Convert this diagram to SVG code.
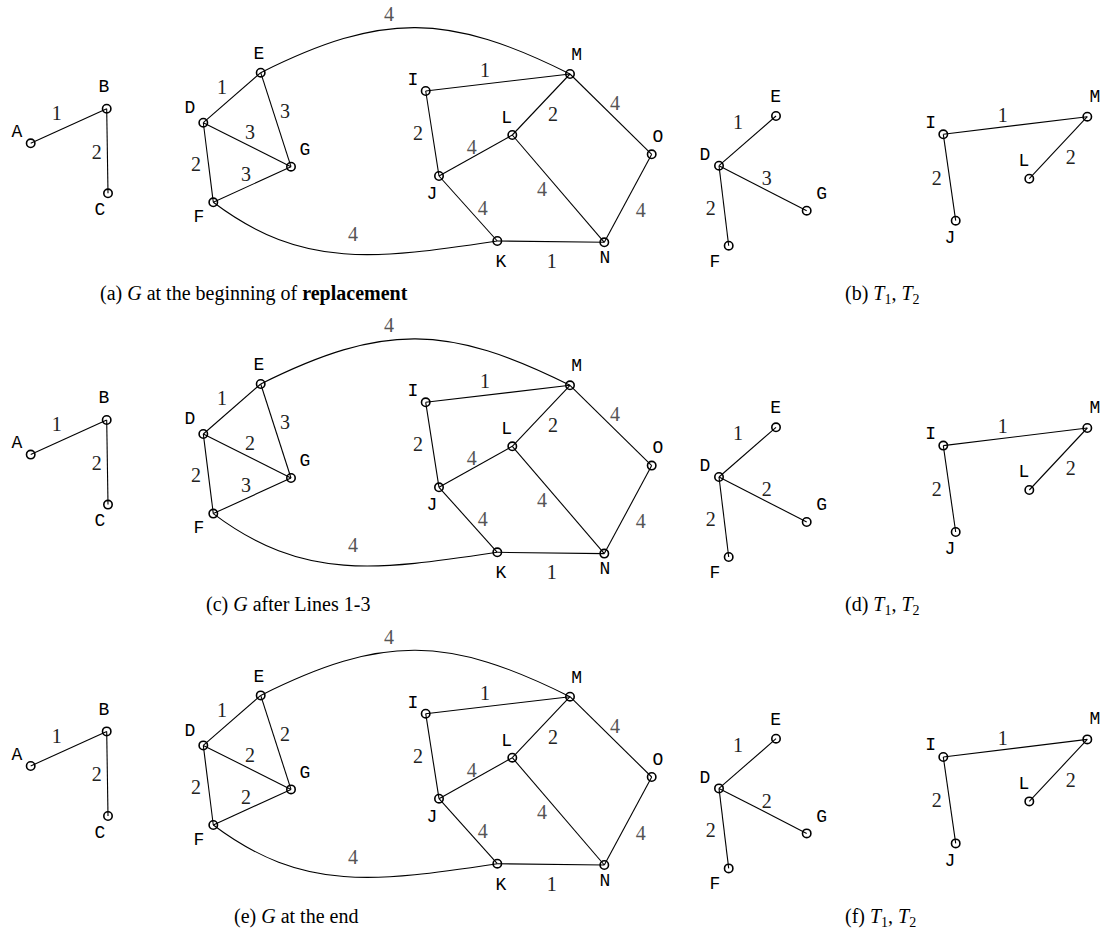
<svg xmlns="http://www.w3.org/2000/svg" width="1103" height="938" viewBox="0 0 1103 938">
<style>
.e{stroke:#000;stroke-width:1.1;fill:none}
.n{stroke:#000;stroke-width:1.6;fill:none}
.nl{font-family:"Liberation Mono","DejaVu Sans Mono",monospace;font-size:18px;fill:#000;text-anchor:middle;dominant-baseline:central}
.w{font-family:"Liberation Serif","Times New Roman",serif;font-size:20px;fill:#222;text-anchor:middle;dominant-baseline:central}
.w4{fill:#555}
.cap{font-family:"Liberation Serif","Times New Roman",serif;font-size:20px;fill:#000}
</style>
<defs>
<circle id="nd" r="4.2" class="n"/>
</defs>

<!-- ===== Row 1 ===== -->
<g id="row1">
<g id="r1-edges">
<line class="e" x1="30.7" y1="143.3" x2="106.7" y2="108.7"/>
<line class="e" x1="106.7" y1="108.7" x2="108" y2="193.3"/>
<line class="e" x1="203.3" y1="122.7" x2="260.7" y2="72.7"/>
<line class="e" x1="260.7" y1="72.7" x2="291" y2="166.7"/>
<line class="e" x1="203.3" y1="122.7" x2="291" y2="166.7"/>
<line class="e" x1="203.3" y1="122.7" x2="213.3" y2="202.3"/>
<line class="e" x1="213.3" y1="202.3" x2="291" y2="166.7"/>
<path class="e" d="M260.7,72.7 C383,11.7 448,13 570,74"/>
<path class="e" d="M213.3,202.3 C303,270 377,259 497.3,241"/>
<line class="e" x1="425.7" y1="91" x2="570" y2="74"/>
<line class="e" x1="425.7" y1="91" x2="439" y2="176"/>
<line class="e" x1="439" y1="176" x2="512.3" y2="135"/>
<line class="e" x1="512.3" y1="135" x2="570" y2="74"/>
<line class="e" x1="570" y1="74" x2="651.7" y2="154.3"/>
<line class="e" x1="651.7" y1="154.3" x2="604.3" y2="242.3"/>
<line class="e" x1="512.3" y1="135" x2="604.3" y2="242.3"/>
<line class="e" x1="439" y1="176" x2="497.3" y2="241"/>
<line class="e" x1="497.3" y1="241" x2="604.3" y2="242.3"/>
<line class="e" x1="719" y1="165.7" x2="776" y2="116"/>
<line class="e" x1="719" y1="165.7" x2="806.7" y2="210.7"/>
<line class="e" x1="719" y1="165.7" x2="728.7" y2="245.7"/>
<line class="e" x1="943.3" y1="134.3" x2="1087.3" y2="116.7"/>
<line class="e" x1="1087.3" y1="116.7" x2="1029.3" y2="178.7"/>
<line class="e" x1="943.3" y1="134.3" x2="955.7" y2="220.7"/>
</g>
<g id="r1-weights">
<text class="w" x="56.7" y="113">1</text>
<text class="w" x="96.7" y="151.7">2</text>
<text class="w" x="222" y="87">1</text>
<text class="w" x="285" y="111">3</text>
<text class="w" x="250" y="132">3</text>
<text class="w" x="196" y="164">2</text>
<text class="w" x="246" y="174">3</text>
<text class="w w4" x="389" y="14">4</text>
<text class="w w4" x="353" y="234">4</text>
<text class="w" x="485" y="70">1</text>
<text class="w" x="553" y="114">2</text>
<text class="w w4" x="615" y="103">4</text>
<text class="w" x="418" y="133">2</text>
<text class="w w4" x="471.7" y="147">4</text>
<text class="w w4" x="542" y="189">4</text>
<text class="w w4" x="640.7" y="210">4</text>
<text class="w w4" x="482.7" y="208">4</text>
<text class="w" x="551.7" y="261">1</text>
<text class="w" x="738" y="122">1</text>
<text class="w" x="766.7" y="178">3</text>
<text class="w" x="710.7" y="207.7">2</text>
<text class="w" x="1002.7" y="115">1</text>
<text class="w" x="1070.7" y="157">2</text>
<text class="w" x="936.7" y="177.7">2</text>
</g>
<g id="r1-A"><use href="#nd" x="30.7" y="143.3"/><text class="nl" x="17" y="132">A</text></g>
<g id="r1-B"><use href="#nd" x="106.7" y="108.7"/><text class="nl" x="104" y="87">B</text></g>
<g id="r1-C"><use href="#nd" x="108" y="193.3"/><text class="nl" x="100" y="210">C</text></g>
<g id="r1-D"><use href="#nd" x="203.3" y="122.7"/><text class="nl" x="190" y="108">D</text></g>
<g id="r1-E"><use href="#nd" x="260.7" y="72.7"/><text class="nl" x="259" y="54">E</text></g>
<g id="r1-F"><use href="#nd" x="213.3" y="202.3"/><text class="nl" x="199" y="217">F</text></g>
<g id="r1-G"><use href="#nd" x="291" y="166.7"/><text class="nl" x="305" y="150">G</text></g>
<g id="r1-I"><use href="#nd" x="425.7" y="91"/><text class="nl" x="413" y="80">I</text></g>
<g id="r1-M"><use href="#nd" x="570" y="74"/><text class="nl" x="576.7" y="55">M</text></g>
<g id="r1-L"><use href="#nd" x="512.3" y="135"/><text class="nl" x="506.7" y="118">L</text></g>
<g id="r1-O"><use href="#nd" x="651.7" y="154.3"/><text class="nl" x="658" y="137">O</text></g>
<g id="r1-J"><use href="#nd" x="439" y="176"/><text class="nl" x="432" y="194">J</text></g>
<g id="r1-K"><use href="#nd" x="497.3" y="241"/><text class="nl" x="501" y="262">K</text></g>
<g id="r1-N"><use href="#nd" x="604.3" y="242.3"/><text class="nl" x="605" y="258">N</text></g>
<g id="r1-tD"><use href="#nd" x="719" y="165.7"/><text class="nl" x="705" y="155">D</text></g>
<g id="r1-tE"><use href="#nd" x="776" y="116"/><text class="nl" x="775.7" y="97">E</text></g>
<g id="r1-tG"><use href="#nd" x="806.7" y="210.7"/><text class="nl" x="821.7" y="194">G</text></g>
<g id="r1-tF"><use href="#nd" x="728.7" y="245.7"/><text class="nl" x="715" y="261.7">F</text></g>
<g id="r1-tI"><use href="#nd" x="943.3" y="134.3"/><text class="nl" x="930.7" y="122.7">I</text></g>
<g id="r1-tM"><use href="#nd" x="1087.3" y="116.7"/><text class="nl" x="1095" y="96.7">M</text></g>
<g id="r1-tL"><use href="#nd" x="1029.3" y="178.7"/><text class="nl" x="1024" y="161">L</text></g>
<g id="r1-tJ"><use href="#nd" x="955.7" y="220.7"/><text class="nl" x="950" y="238">J</text></g>
<text class="cap" x="100" y="300">(a) <tspan font-style="italic">G</tspan> at the beginning of <tspan font-weight="bold">replacement</tspan></text>
<text class="cap" x="845" y="300">(b) <tspan font-style="italic">T</tspan><tspan font-size="14" dy="4">1</tspan><tspan dy="-4">, </tspan><tspan font-style="italic">T</tspan><tspan font-size="14" dy="4">2</tspan></text>
</g>

<!-- ===== Row 2 ===== -->
<g id="row2" transform="translate(0,311.3)">
<g id="r2-edges">
<line class="e" x1="30.7" y1="143.3" x2="106.7" y2="108.7"/>
<line class="e" x1="106.7" y1="108.7" x2="108" y2="193.3"/>
<line class="e" x1="203.3" y1="122.7" x2="260.7" y2="72.7"/>
<line class="e" x1="260.7" y1="72.7" x2="291" y2="166.7"/>
<line class="e" x1="203.3" y1="122.7" x2="291" y2="166.7"/>
<line class="e" x1="203.3" y1="122.7" x2="213.3" y2="202.3"/>
<line class="e" x1="213.3" y1="202.3" x2="291" y2="166.7"/>
<path class="e" d="M260.7,72.7 C383,11.7 448,13 570,74"/>
<path class="e" d="M213.3,202.3 C303,270 377,259 497.3,241"/>
<line class="e" x1="425.7" y1="91" x2="570" y2="74"/>
<line class="e" x1="425.7" y1="91" x2="439" y2="176"/>
<line class="e" x1="439" y1="176" x2="512.3" y2="135"/>
<line class="e" x1="512.3" y1="135" x2="570" y2="74"/>
<line class="e" x1="570" y1="74" x2="651.7" y2="154.3"/>
<line class="e" x1="651.7" y1="154.3" x2="604.3" y2="242.3"/>
<line class="e" x1="512.3" y1="135" x2="604.3" y2="242.3"/>
<line class="e" x1="439" y1="176" x2="497.3" y2="241"/>
<line class="e" x1="497.3" y1="241" x2="604.3" y2="242.3"/>
<line class="e" x1="719" y1="165.7" x2="776" y2="116"/>
<line class="e" x1="719" y1="165.7" x2="806.7" y2="210.7"/>
<line class="e" x1="719" y1="165.7" x2="728.7" y2="245.7"/>
<line class="e" x1="943.3" y1="134.3" x2="1087.3" y2="116.7"/>
<line class="e" x1="1087.3" y1="116.7" x2="1029.3" y2="178.7"/>
<line class="e" x1="943.3" y1="134.3" x2="955.7" y2="220.7"/>
</g>
<g id="r2-weights">
<text class="w" x="56.7" y="113">1</text>
<text class="w" x="96.7" y="151.7">2</text>
<text class="w" x="222" y="87">1</text>
<text class="w" x="285" y="111">3</text>
<text class="w" x="250" y="132">2</text>
<text class="w" x="196" y="164">2</text>
<text class="w" x="246" y="174">3</text>
<text class="w w4" x="389" y="14">4</text>
<text class="w w4" x="353" y="234">4</text>
<text class="w" x="485" y="70">1</text>
<text class="w" x="553" y="114">2</text>
<text class="w w4" x="615" y="103">4</text>
<text class="w" x="418" y="133">2</text>
<text class="w w4" x="471.7" y="147">4</text>
<text class="w w4" x="542" y="189">4</text>
<text class="w w4" x="640.7" y="210">4</text>
<text class="w w4" x="482.7" y="208">4</text>
<text class="w" x="551.7" y="261">1</text>
<text class="w" x="738" y="122">1</text>
<text class="w" x="766.7" y="178">2</text>
<text class="w" x="710.7" y="207.7">2</text>
<text class="w" x="1002.7" y="115">1</text>
<text class="w" x="1070.7" y="157">2</text>
<text class="w" x="936.7" y="177.7">2</text>
</g>
<g id="r2-A"><use href="#nd" x="30.7" y="143.3"/><text class="nl" x="17" y="132">A</text></g>
<g id="r2-B"><use href="#nd" x="106.7" y="108.7"/><text class="nl" x="104" y="87">B</text></g>
<g id="r2-C"><use href="#nd" x="108" y="193.3"/><text class="nl" x="100" y="210">C</text></g>
<g id="r2-D"><use href="#nd" x="203.3" y="122.7"/><text class="nl" x="190" y="108">D</text></g>
<g id="r2-E"><use href="#nd" x="260.7" y="72.7"/><text class="nl" x="259" y="54">E</text></g>
<g id="r2-F"><use href="#nd" x="213.3" y="202.3"/><text class="nl" x="199" y="217">F</text></g>
<g id="r2-G"><use href="#nd" x="291" y="166.7"/><text class="nl" x="305" y="150">G</text></g>
<g id="r2-I"><use href="#nd" x="425.7" y="91"/><text class="nl" x="413" y="80">I</text></g>
<g id="r2-M"><use href="#nd" x="570" y="74"/><text class="nl" x="576.7" y="55">M</text></g>
<g id="r2-L"><use href="#nd" x="512.3" y="135"/><text class="nl" x="506.7" y="118">L</text></g>
<g id="r2-O"><use href="#nd" x="651.7" y="154.3"/><text class="nl" x="658" y="137">O</text></g>
<g id="r2-J"><use href="#nd" x="439" y="176"/><text class="nl" x="432" y="194">J</text></g>
<g id="r2-K"><use href="#nd" x="497.3" y="241"/><text class="nl" x="501" y="262">K</text></g>
<g id="r2-N"><use href="#nd" x="604.3" y="242.3"/><text class="nl" x="605" y="258">N</text></g>
<g id="r2-tD"><use href="#nd" x="719" y="165.7"/><text class="nl" x="705" y="155">D</text></g>
<g id="r2-tE"><use href="#nd" x="776" y="116"/><text class="nl" x="775.7" y="97">E</text></g>
<g id="r2-tG"><use href="#nd" x="806.7" y="210.7"/><text class="nl" x="821.7" y="194">G</text></g>
<g id="r2-tF"><use href="#nd" x="728.7" y="245.7"/><text class="nl" x="715" y="261.7">F</text></g>
<g id="r2-tI"><use href="#nd" x="943.3" y="134.3"/><text class="nl" x="930.7" y="122.7">I</text></g>
<g id="r2-tM"><use href="#nd" x="1087.3" y="116.7"/><text class="nl" x="1095" y="96.7">M</text></g>
<g id="r2-tL"><use href="#nd" x="1029.3" y="178.7"/><text class="nl" x="1024" y="161">L</text></g>
<g id="r2-tJ"><use href="#nd" x="955.7" y="220.7"/><text class="nl" x="950" y="238">J</text></g>
<text class="cap" x="206" y="300">(c) <tspan font-style="italic">G</tspan> after Lines 1-3</text>
<text class="cap" x="845" y="300">(d) <tspan font-style="italic">T</tspan><tspan font-size="14" dy="4">1</tspan><tspan dy="-4">, </tspan><tspan font-style="italic">T</tspan><tspan font-size="14" dy="4">2</tspan></text>
</g>

<!-- ===== Row 3 ===== -->
<g id="row3" transform="translate(0,622.7)">
<g id="r3-edges">
<line class="e" x1="30.7" y1="143.3" x2="106.7" y2="108.7"/>
<line class="e" x1="106.7" y1="108.7" x2="108" y2="193.3"/>
<line class="e" x1="203.3" y1="122.7" x2="260.7" y2="72.7"/>
<line class="e" x1="260.7" y1="72.7" x2="291" y2="166.7"/>
<line class="e" x1="203.3" y1="122.7" x2="291" y2="166.7"/>
<line class="e" x1="203.3" y1="122.7" x2="213.3" y2="202.3"/>
<line class="e" x1="213.3" y1="202.3" x2="291" y2="166.7"/>
<path class="e" d="M260.7,72.7 C383,11.7 448,13 570,74"/>
<path class="e" d="M213.3,202.3 C303,270 377,259 497.3,241"/>
<line class="e" x1="425.7" y1="91" x2="570" y2="74"/>
<line class="e" x1="425.7" y1="91" x2="439" y2="176"/>
<line class="e" x1="439" y1="176" x2="512.3" y2="135"/>
<line class="e" x1="512.3" y1="135" x2="570" y2="74"/>
<line class="e" x1="570" y1="74" x2="651.7" y2="154.3"/>
<line class="e" x1="651.7" y1="154.3" x2="604.3" y2="242.3"/>
<line class="e" x1="512.3" y1="135" x2="604.3" y2="242.3"/>
<line class="e" x1="439" y1="176" x2="497.3" y2="241"/>
<line class="e" x1="497.3" y1="241" x2="604.3" y2="242.3"/>
<line class="e" x1="719" y1="165.7" x2="776" y2="116"/>
<line class="e" x1="719" y1="165.7" x2="806.7" y2="210.7"/>
<line class="e" x1="719" y1="165.7" x2="728.7" y2="245.7"/>
<line class="e" x1="943.3" y1="134.3" x2="1087.3" y2="116.7"/>
<line class="e" x1="1087.3" y1="116.7" x2="1029.3" y2="178.7"/>
<line class="e" x1="943.3" y1="134.3" x2="955.7" y2="220.7"/>
</g>
<g id="r3-weights">
<text class="w" x="56.7" y="113">1</text>
<text class="w" x="96.7" y="151.7">2</text>
<text class="w" x="222" y="87">1</text>
<text class="w" x="285" y="111">2</text>
<text class="w" x="250" y="132">2</text>
<text class="w" x="196" y="164">2</text>
<text class="w" x="246" y="174">2</text>
<text class="w w4" x="389" y="14">4</text>
<text class="w w4" x="353" y="234">4</text>
<text class="w" x="485" y="70">1</text>
<text class="w" x="553" y="114">2</text>
<text class="w w4" x="615" y="103">4</text>
<text class="w" x="418" y="133">2</text>
<text class="w w4" x="471.7" y="147">4</text>
<text class="w w4" x="542" y="189">4</text>
<text class="w w4" x="640.7" y="210">4</text>
<text class="w w4" x="482.7" y="208">4</text>
<text class="w" x="551.7" y="261">1</text>
<text class="w" x="738" y="122">1</text>
<text class="w" x="766.7" y="178">2</text>
<text class="w" x="710.7" y="207.7">2</text>
<text class="w" x="1002.7" y="115">1</text>
<text class="w" x="1070.7" y="157">2</text>
<text class="w" x="936.7" y="177.7">2</text>
</g>
<g id="r3-A"><use href="#nd" x="30.7" y="143.3"/><text class="nl" x="17" y="132">A</text></g>
<g id="r3-B"><use href="#nd" x="106.7" y="108.7"/><text class="nl" x="104" y="87">B</text></g>
<g id="r3-C"><use href="#nd" x="108" y="193.3"/><text class="nl" x="100" y="210">C</text></g>
<g id="r3-D"><use href="#nd" x="203.3" y="122.7"/><text class="nl" x="190" y="108">D</text></g>
<g id="r3-E"><use href="#nd" x="260.7" y="72.7"/><text class="nl" x="259" y="54">E</text></g>
<g id="r3-F"><use href="#nd" x="213.3" y="202.3"/><text class="nl" x="199" y="217">F</text></g>
<g id="r3-G"><use href="#nd" x="291" y="166.7"/><text class="nl" x="305" y="150">G</text></g>
<g id="r3-I"><use href="#nd" x="425.7" y="91"/><text class="nl" x="413" y="80">I</text></g>
<g id="r3-M"><use href="#nd" x="570" y="74"/><text class="nl" x="576.7" y="55">M</text></g>
<g id="r3-L"><use href="#nd" x="512.3" y="135"/><text class="nl" x="506.7" y="118">L</text></g>
<g id="r3-O"><use href="#nd" x="651.7" y="154.3"/><text class="nl" x="658" y="137">O</text></g>
<g id="r3-J"><use href="#nd" x="439" y="176"/><text class="nl" x="432" y="194">J</text></g>
<g id="r3-K"><use href="#nd" x="497.3" y="241"/><text class="nl" x="501" y="262">K</text></g>
<g id="r3-N"><use href="#nd" x="604.3" y="242.3"/><text class="nl" x="605" y="258">N</text></g>
<g id="r3-tD"><use href="#nd" x="719" y="165.7"/><text class="nl" x="705" y="155">D</text></g>
<g id="r3-tE"><use href="#nd" x="776" y="116"/><text class="nl" x="775.7" y="97">E</text></g>
<g id="r3-tG"><use href="#nd" x="806.7" y="210.7"/><text class="nl" x="821.7" y="194">G</text></g>
<g id="r3-tF"><use href="#nd" x="728.7" y="245.7"/><text class="nl" x="715" y="261.7">F</text></g>
<g id="r3-tI"><use href="#nd" x="943.3" y="134.3"/><text class="nl" x="930.7" y="122.7">I</text></g>
<g id="r3-tM"><use href="#nd" x="1087.3" y="116.7"/><text class="nl" x="1095" y="96.7">M</text></g>
<g id="r3-tL"><use href="#nd" x="1029.3" y="178.7"/><text class="nl" x="1024" y="161">L</text></g>
<g id="r3-tJ"><use href="#nd" x="955.7" y="220.7"/><text class="nl" x="950" y="238">J</text></g>
<text class="cap" x="234" y="300">(e) <tspan font-style="italic">G</tspan> at the end</text>
<text class="cap" x="845" y="300">(f) <tspan font-style="italic">T</tspan><tspan font-size="14" dy="4">1</tspan><tspan dy="-4">, </tspan><tspan font-style="italic">T</tspan><tspan font-size="14" dy="4">2</tspan></text>
</g>
</svg>
